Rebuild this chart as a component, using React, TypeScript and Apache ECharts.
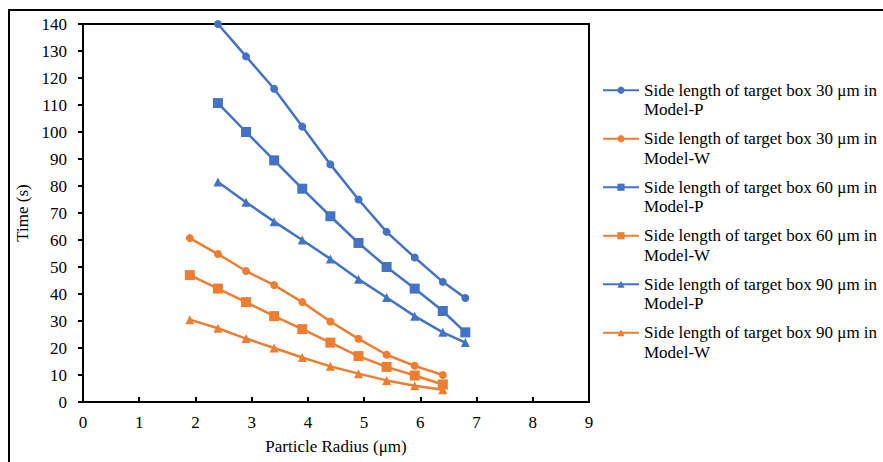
import React, { useEffect, useRef } from "react";
import * as echarts from "echarts";

const xP = [2.4, 2.9, 3.4, 3.9, 4.4, 4.9, 5.4, 5.9, 6.4, 6.8];
const xW = [1.9, 2.4, 2.9, 3.4, 3.9, 4.4, 4.9, 5.4, 5.9, 6.4];

const p30 = [140, 128, 116, 102, 88, 75, 63, 53.5, 44.5, 38.5];
const w30 = [60.7, 54.8, 48.5, 43.3, 37, 29.8, 23.4, 17.5, 13.4, 10];
const p60 = [110.7, 100, 89.5, 79, 68.8, 58.9, 50, 42, 33.7, 25.8];
const w60 = [47, 42, 37, 31.8, 27, 22, 17, 13, 9.8, 6.5];
const p90 = [81.5, 74, 66.8, 60, 53, 45.5, 38.7, 31.8, 25.8, 22];
const w90 = [30.5, 27.3, 23.5, 20, 16.5, 13.2, 10.5, 8, 6, 4.5];

const seriesNames = [
  "Side length of target box 30 μm in\nModel-P",
  "Side length of target box 30 μm in\nModel-W",
  "Side length of target box 60 μm in\nModel-P",
  "Side length of target box 60 μm in\nModel-W",
  "Side length of target box 90 μm in\nModel-P",
  "Side length of target box 90 μm in\nModel-W",
];

const BLUE = "#4472C4";
const ORANGE = "#ED7D31";
const FONT = "'Liberation Serif', 'Times New Roman', serif";
const FS = 17;

export default function App() {
  const ref = useRef<HTMLDivElement>(null);
  useEffect(() => {
    if (!ref.current) return;
    const chart = echarts.init(ref.current, undefined, { renderer: "svg" });
    const defs = [
      { name: seriesNames[0], xs: xP, ys: p30, color: BLUE, symbol: "circle", size: 8 },
      { name: seriesNames[1], xs: xW, ys: w30, color: ORANGE, symbol: "circle", size: 8 },
      { name: seriesNames[2], xs: xP, ys: p60, color: BLUE, symbol: "rect", size: 10 },
      { name: seriesNames[3], xs: xW, ys: w60, color: ORANGE, symbol: "rect", size: 10 },
      { name: seriesNames[4], xs: xP, ys: p90, color: BLUE, symbol: "triangle", size: 9 },
      { name: seriesNames[5], xs: xW, ys: w90, color: ORANGE, symbol: "triangle", size: 9 },
    ];
    chart.setOption({
      animation: false,
      backgroundColor: "#fff",
      textStyle: { fontFamily: FONT },
      graphic: [
        {
          type: "rect",
          shape: { x: 9, y: 10, width: 2000, height: 2000 },
          style: { fill: "none", stroke: "#000", lineWidth: 2 },
          silent: true,
        },
      ],
      grid: {
        left: 83,
        top: 24,
        right: 294,
        bottom: 60,
        show: true,
        borderColor: "#000",
        borderWidth: 2,
        backgroundColor: "transparent",
      },
      legend: {
        orient: "vertical",
        left: 602,
        top: 61,
        padding: 0,
        itemWidth: 36,
        itemHeight: 9,
        itemGap: -10,
        data: seriesNames,
        formatter: (n: string) => "\n" + n,
        textStyle: { fontFamily: FONT, fontSize: FS, color: "#000", lineHeight: 19.5 },
      },
      xAxis: {
        type: "value",
        min: 0,
        max: 9,
        interval: 1,
        name: "Particle Radius (μm)",
        nameLocation: "middle",
        nameGap: 36,
        nameTextStyle: { fontFamily: FONT, fontSize: FS, color: "#000" },
        axisLine: { lineStyle: { color: "#000", width: 2 } },
        axisTick: { inside: true, length: 5, lineStyle: { color: "#000", width: 2 } },
        axisLabel: { fontFamily: FONT, fontSize: FS, color: "#000", margin: 12 },
        splitLine: { show: false },
      },
      yAxis: {
        type: "value",
        min: 0,
        max: 140,
        interval: 10,
        name: "Time (s)",
        nameLocation: "middle",
        nameGap: 46,
        nameTextStyle: { fontFamily: FONT, fontSize: FS, color: "#000" },
        axisLine: { show: true, lineStyle: { color: "#000", width: 2 } },
        axisTick: { show: true, length: 5, lineStyle: { color: "#000", width: 2 } },
        axisLabel: { fontFamily: FONT, fontSize: FS, color: "#000", margin: 16 },
        splitLine: { show: false },
      },
      series: defs.map((d) => ({
        type: "line",
        name: d.name,
        data: d.xs.map((x, i) => [x, d.ys[i]]),
        symbol: d.symbol,
        symbolSize: d.size,
        showSymbol: true,
        color: d.color,
        itemStyle: { color: d.color },
        lineStyle: { color: d.color, width: 2.5 },
        clip: false,
      })),
    });
    return () => chart.dispose();
  }, []);
  return (
    <div
      ref={ref}
      style={{ position: "fixed", left: 0, top: 0, width: 883, height: 462 }}
    />
  );
}
